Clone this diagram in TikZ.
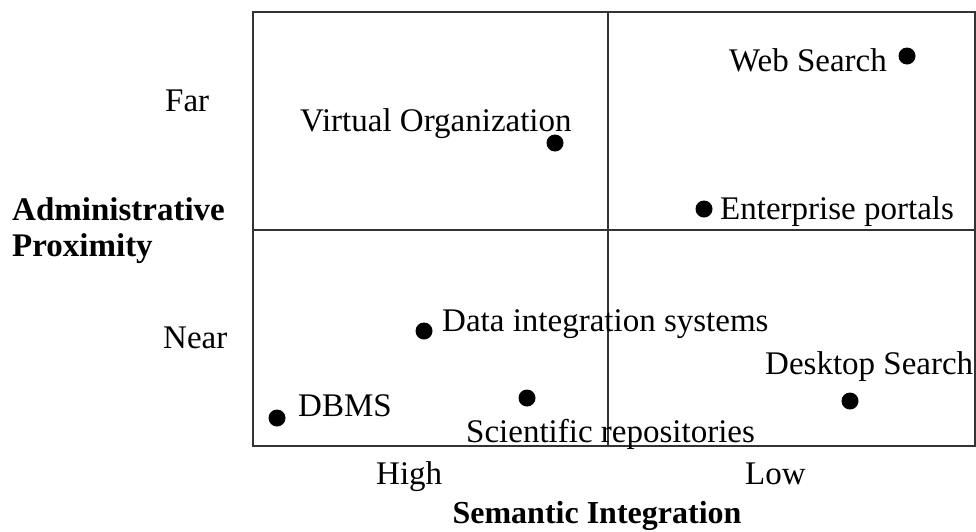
\documentclass[tikz,border=0pt]{standalone}
\usepackage{fontspec}
\setmainfont{Liberation Serif}
\usetikzlibrary{positioning}
\tikzset{dot/.style={circle, fill=black, inner sep=0pt, minimum size=17pt},
  lbl/.style={inner sep=0pt, font=\fontsize{33}{36}\selectfont},
  axislbl/.style={lbl, font=\fontsize{33}{36}\selectfont\bfseries},
  grid/.style={line width=1.8pt, draw=black!80}}

\begin{document}
\begin{tikzpicture}[x=1pt, y=-1pt]
  \useasboundingbox (0,0) rectangle (976,531);

  % quadrants
  \draw[grid] (253,12) rectangle (975,446);
  \draw[grid] (608,12) -- (608,446);
  \draw[grid] (253,230) -- (975,230);

  % systems
  \node[dot] (web) at (907,56) {};
  \node[lbl, anchor=base east] (webl) at (887,71) {Web Search};
  \node[dot] (vo) at (555,143) {};
  \node[lbl, anchor=base west] (vol) at (300,131) {Virtual Organization};
  \node[dot] (ep) at (704,209) {};
  \node[lbl, anchor=base west] (epl) at (720,219) {Enterprise portals};
  \node[dot] (dis) at (424,331) {};
  \node[lbl, anchor=base west] (disl) at (442,331) {Data integration systems};
  \node[dot] (ds) at (850,401) {};
  \node[lbl, anchor=base west] (dsl) at (765,374) {Desktop Search};
  \node[dot] (dbms) at (277,418) {};
  \node[lbl, anchor=base west] (dbmsl) at (298,416) {DBMS};
  \node[dot] (sr) at (527,398) {};
  \node[lbl, anchor=base west] (srl) at (466,442) {Scientific repositories};

  % axes
  \node[lbl, anchor=base west] (far) at (165,111) {Far};
  \node[lbl, anchor=base west] (near) at (163,348) {Near};
  \node[axislbl, anchor=base west] (admin) at (12,220) {Administrative};
  \node[axislbl, anchor=base west] (prox) at ([yshift=-36pt]admin.base west) {Proximity};
  \node[lbl, anchor=base west] (high) at (376,484) {High};
  \node[lbl, anchor=base west] (low) at (745,484) {Low};
  \node[axislbl, anchor=base, font=\fontsize{32}{36}\selectfont\bfseries] (sem) at (597,523) {Semantic Integration};
\end{tikzpicture}
\end{document}
